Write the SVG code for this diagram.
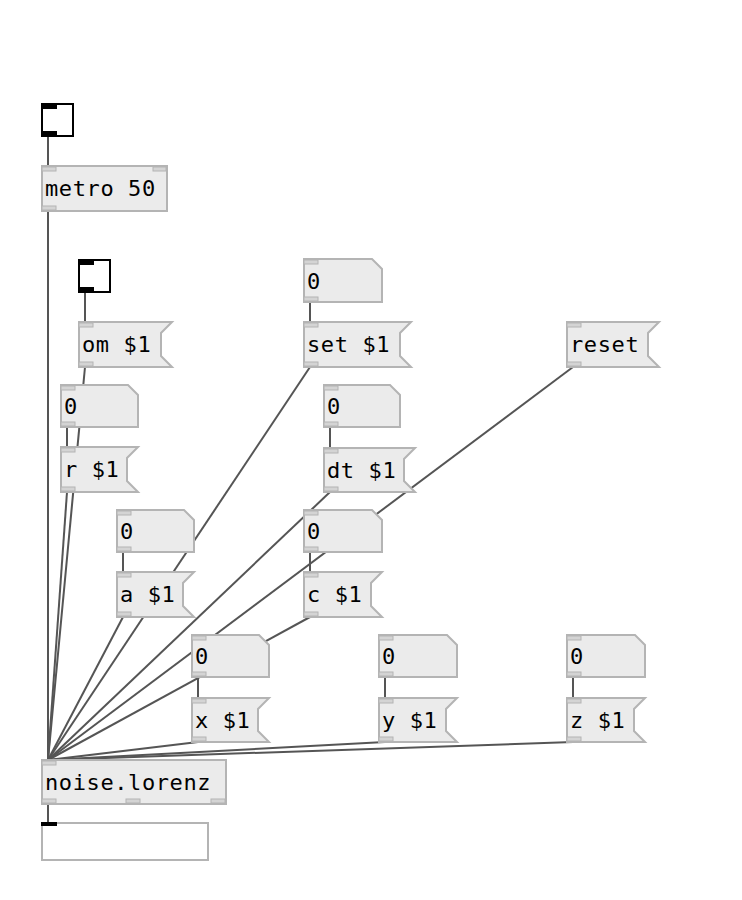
<svg xmlns="http://www.w3.org/2000/svg" width="742" height="900" viewBox="0 0 742 900">
<style>
.bx{fill:#ebebeb;stroke:#b4b4b4;stroke-width:2}
.io{fill:#d4d4d4;stroke:#b4b4b4;stroke-width:1}
.tg{fill:#ffffff;stroke:#000;stroke-width:2}
.tb{fill:#000}
.c{stroke:#555;stroke-width:2;fill:none}
text{font-family:"DejaVu Sans Mono","Liberation Mono",monospace;font-size:22px;letter-spacing:0.6px;fill:#000}
</style>
<rect width="742" height="900" fill="#fff"/>
<g id="connectors" class="c">
<line x1="48" y1="136" x2="48" y2="166"/>
<line x1="48" y1="211" x2="48" y2="760"/>
<line x1="85" y1="292" x2="85" y2="322"/>
<line x1="85" y1="367" x2="48" y2="760"/>
<line x1="67" y1="427" x2="67" y2="447"/>
<line x1="67" y1="492" x2="48" y2="760"/>
<line x1="310" y1="302" x2="310" y2="322"/>
<line x1="310" y1="367" x2="48" y2="760"/>
<line x1="573" y1="367" x2="48" y2="760"/>
<line x1="330" y1="427" x2="330" y2="448"/>
<line x1="330" y1="492" x2="48" y2="760"/>
<line x1="123" y1="552" x2="123" y2="572"/>
<line x1="123" y1="617" x2="48" y2="760"/>
<line x1="310" y1="552" x2="310" y2="572"/>
<line x1="310" y1="617" x2="48" y2="760"/>
<line x1="198" y1="677" x2="198" y2="698"/>
<line x1="198" y1="742" x2="48" y2="760"/>
<line x1="385" y1="677" x2="385" y2="698"/>
<line x1="385" y1="742" x2="48" y2="760"/>
<line x1="573" y1="677" x2="573" y2="698"/>
<line x1="573" y1="742" x2="48" y2="760"/>
<line x1="48" y1="804" x2="48" y2="822"/>
</g>
<g id="toggle1">
<rect class="tg" x="42" y="104" width="31" height="32"/>
<rect class="tb" x="41" y="103" width="16" height="6"/>
<rect class="tb" x="41" y="131" width="16" height="6"/>
</g>
<g id="metro">
<rect class="bx" x="42" y="166" width="125" height="45"/>
<rect class="io" x="42" y="167" width="14" height="4"/>
<rect class="io" x="153" y="167" width="13" height="4"/>
<rect class="io" x="42" y="206" width="14" height="4"/>
<text x="45" y="196">metro 50</text>
</g>
<g id="toggle2">
<rect class="tg" x="79" y="260" width="31" height="32"/>
<rect class="tb" x="78" y="259" width="16" height="6"/>
<rect class="tb" x="78" y="287" width="16" height="6"/>
</g>
<g id="msg_om">
<path class="bx" d="M79 322H172L161 333V356L172 367H79Z"/>
<rect class="io" x="79" y="323" width="14" height="4"/>
<rect class="io" x="79" y="362" width="14" height="4"/>
<text x="82" y="352">om $1</text>
</g>
<g id="num_r">
<path class="bx" d="M61 385H128L138 395V427H61Z"/>
<rect class="io" x="61" y="386" width="14" height="4"/>
<rect class="io" x="61" y="422" width="14" height="4"/>
<text x="64" y="414">0</text>
</g>
<g id="msg_r">
<path class="bx" d="M61 447H138L127 458V481L138 492H61Z"/>
<rect class="io" x="61" y="448" width="14" height="4"/>
<rect class="io" x="61" y="487" width="14" height="4"/>
<text x="64" y="477">r $1</text>
</g>
<g id="num_set">
<path class="bx" d="M304 259H372L382 269V302H304Z"/>
<rect class="io" x="304" y="260" width="14" height="4"/>
<rect class="io" x="304" y="297" width="14" height="4"/>
<text x="307" y="289">0</text>
</g>
<g id="msg_set">
<path class="bx" d="M304 322H411L400 333V356L411 367H304Z"/>
<rect class="io" x="304" y="323" width="14" height="4"/>
<rect class="io" x="304" y="362" width="14" height="4"/>
<text x="307" y="352">set $1</text>
</g>
<g id="msg_reset">
<path class="bx" d="M567 322H659L648 333V356L659 367H567Z"/>
<rect class="io" x="567" y="323" width="14" height="4"/>
<rect class="io" x="567" y="362" width="14" height="4"/>
<text x="570" y="352">reset</text>
</g>
<g id="num_dt">
<path class="bx" d="M324 385H390L400 395V427H324Z"/>
<rect class="io" x="324" y="386" width="14" height="4"/>
<rect class="io" x="324" y="422" width="14" height="4"/>
<text x="327" y="414">0</text>
</g>
<g id="msg_dt">
<path class="bx" d="M324 448H415L404 459V481L415 492H324Z"/>
<rect class="io" x="324" y="449" width="14" height="4"/>
<rect class="io" x="324" y="487" width="14" height="4"/>
<text x="327" y="478">dt $1</text>
</g>
<g id="num_a">
<path class="bx" d="M117 510H184L194 520V552H117Z"/>
<rect class="io" x="117" y="511" width="14" height="4"/>
<rect class="io" x="117" y="547" width="14" height="4"/>
<text x="120" y="539">0</text>
</g>
<g id="msg_a">
<path class="bx" d="M117 572H194L183 583V606L194 617H117Z"/>
<rect class="io" x="117" y="573" width="14" height="4"/>
<rect class="io" x="117" y="612" width="14" height="4"/>
<text x="120" y="602">a $1</text>
</g>
<g id="num_c">
<path class="bx" d="M304 510H372L382 520V552H304Z"/>
<rect class="io" x="304" y="511" width="14" height="4"/>
<rect class="io" x="304" y="547" width="14" height="4"/>
<text x="307" y="539">0</text>
</g>
<g id="msg_c">
<path class="bx" d="M304 572H382L371 583V606L382 617H304Z"/>
<rect class="io" x="304" y="573" width="14" height="4"/>
<rect class="io" x="304" y="612" width="14" height="4"/>
<text x="307" y="602">c $1</text>
</g>
<g id="num_x">
<path class="bx" d="M192 635H259L269 645V677H192Z"/>
<rect class="io" x="192" y="636" width="14" height="4"/>
<rect class="io" x="192" y="672" width="14" height="4"/>
<text x="195" y="664">0</text>
</g>
<g id="msg_x">
<path class="bx" d="M192 698H269L258 709V731L269 742H192Z"/>
<rect class="io" x="192" y="699" width="14" height="4"/>
<rect class="io" x="192" y="737" width="14" height="4"/>
<text x="195" y="728">x $1</text>
</g>
<g id="num_y">
<path class="bx" d="M379 635H447L457 645V677H379Z"/>
<rect class="io" x="379" y="636" width="14" height="4"/>
<rect class="io" x="379" y="672" width="14" height="4"/>
<text x="382" y="664">0</text>
</g>
<g id="msg_y">
<path class="bx" d="M379 698H457L446 709V731L457 742H379Z"/>
<rect class="io" x="379" y="699" width="14" height="4"/>
<rect class="io" x="379" y="737" width="14" height="4"/>
<text x="382" y="728">y $1</text>
</g>
<g id="num_z">
<path class="bx" d="M567 635H635L645 645V677H567Z"/>
<rect class="io" x="567" y="636" width="14" height="4"/>
<rect class="io" x="567" y="672" width="14" height="4"/>
<text x="570" y="664">0</text>
</g>
<g id="msg_z">
<path class="bx" d="M567 698H645L634 709V731L645 742H567Z"/>
<rect class="io" x="567" y="699" width="14" height="4"/>
<rect class="io" x="567" y="737" width="14" height="4"/>
<text x="570" y="728">z $1</text>
</g>
<g id="noise_lorenz">
<rect class="bx" x="42" y="760" width="184" height="44"/>
<rect class="io" x="42" y="761" width="14" height="4"/>
<rect class="io" x="42" y="799" width="14" height="4"/>
<rect class="io" x="126" y="799" width="14" height="4"/>
<rect class="io" x="211" y="799" width="14" height="4"/>
<text x="45" y="790">noise.lorenz</text>
</g>
<g id="display">
<rect x="42" y="823" width="166" height="37" fill="#fff" stroke="#b4b4b4" stroke-width="2"/>
<rect class="tb" x="41" y="822" width="16" height="4"/>
</g>
</svg>
